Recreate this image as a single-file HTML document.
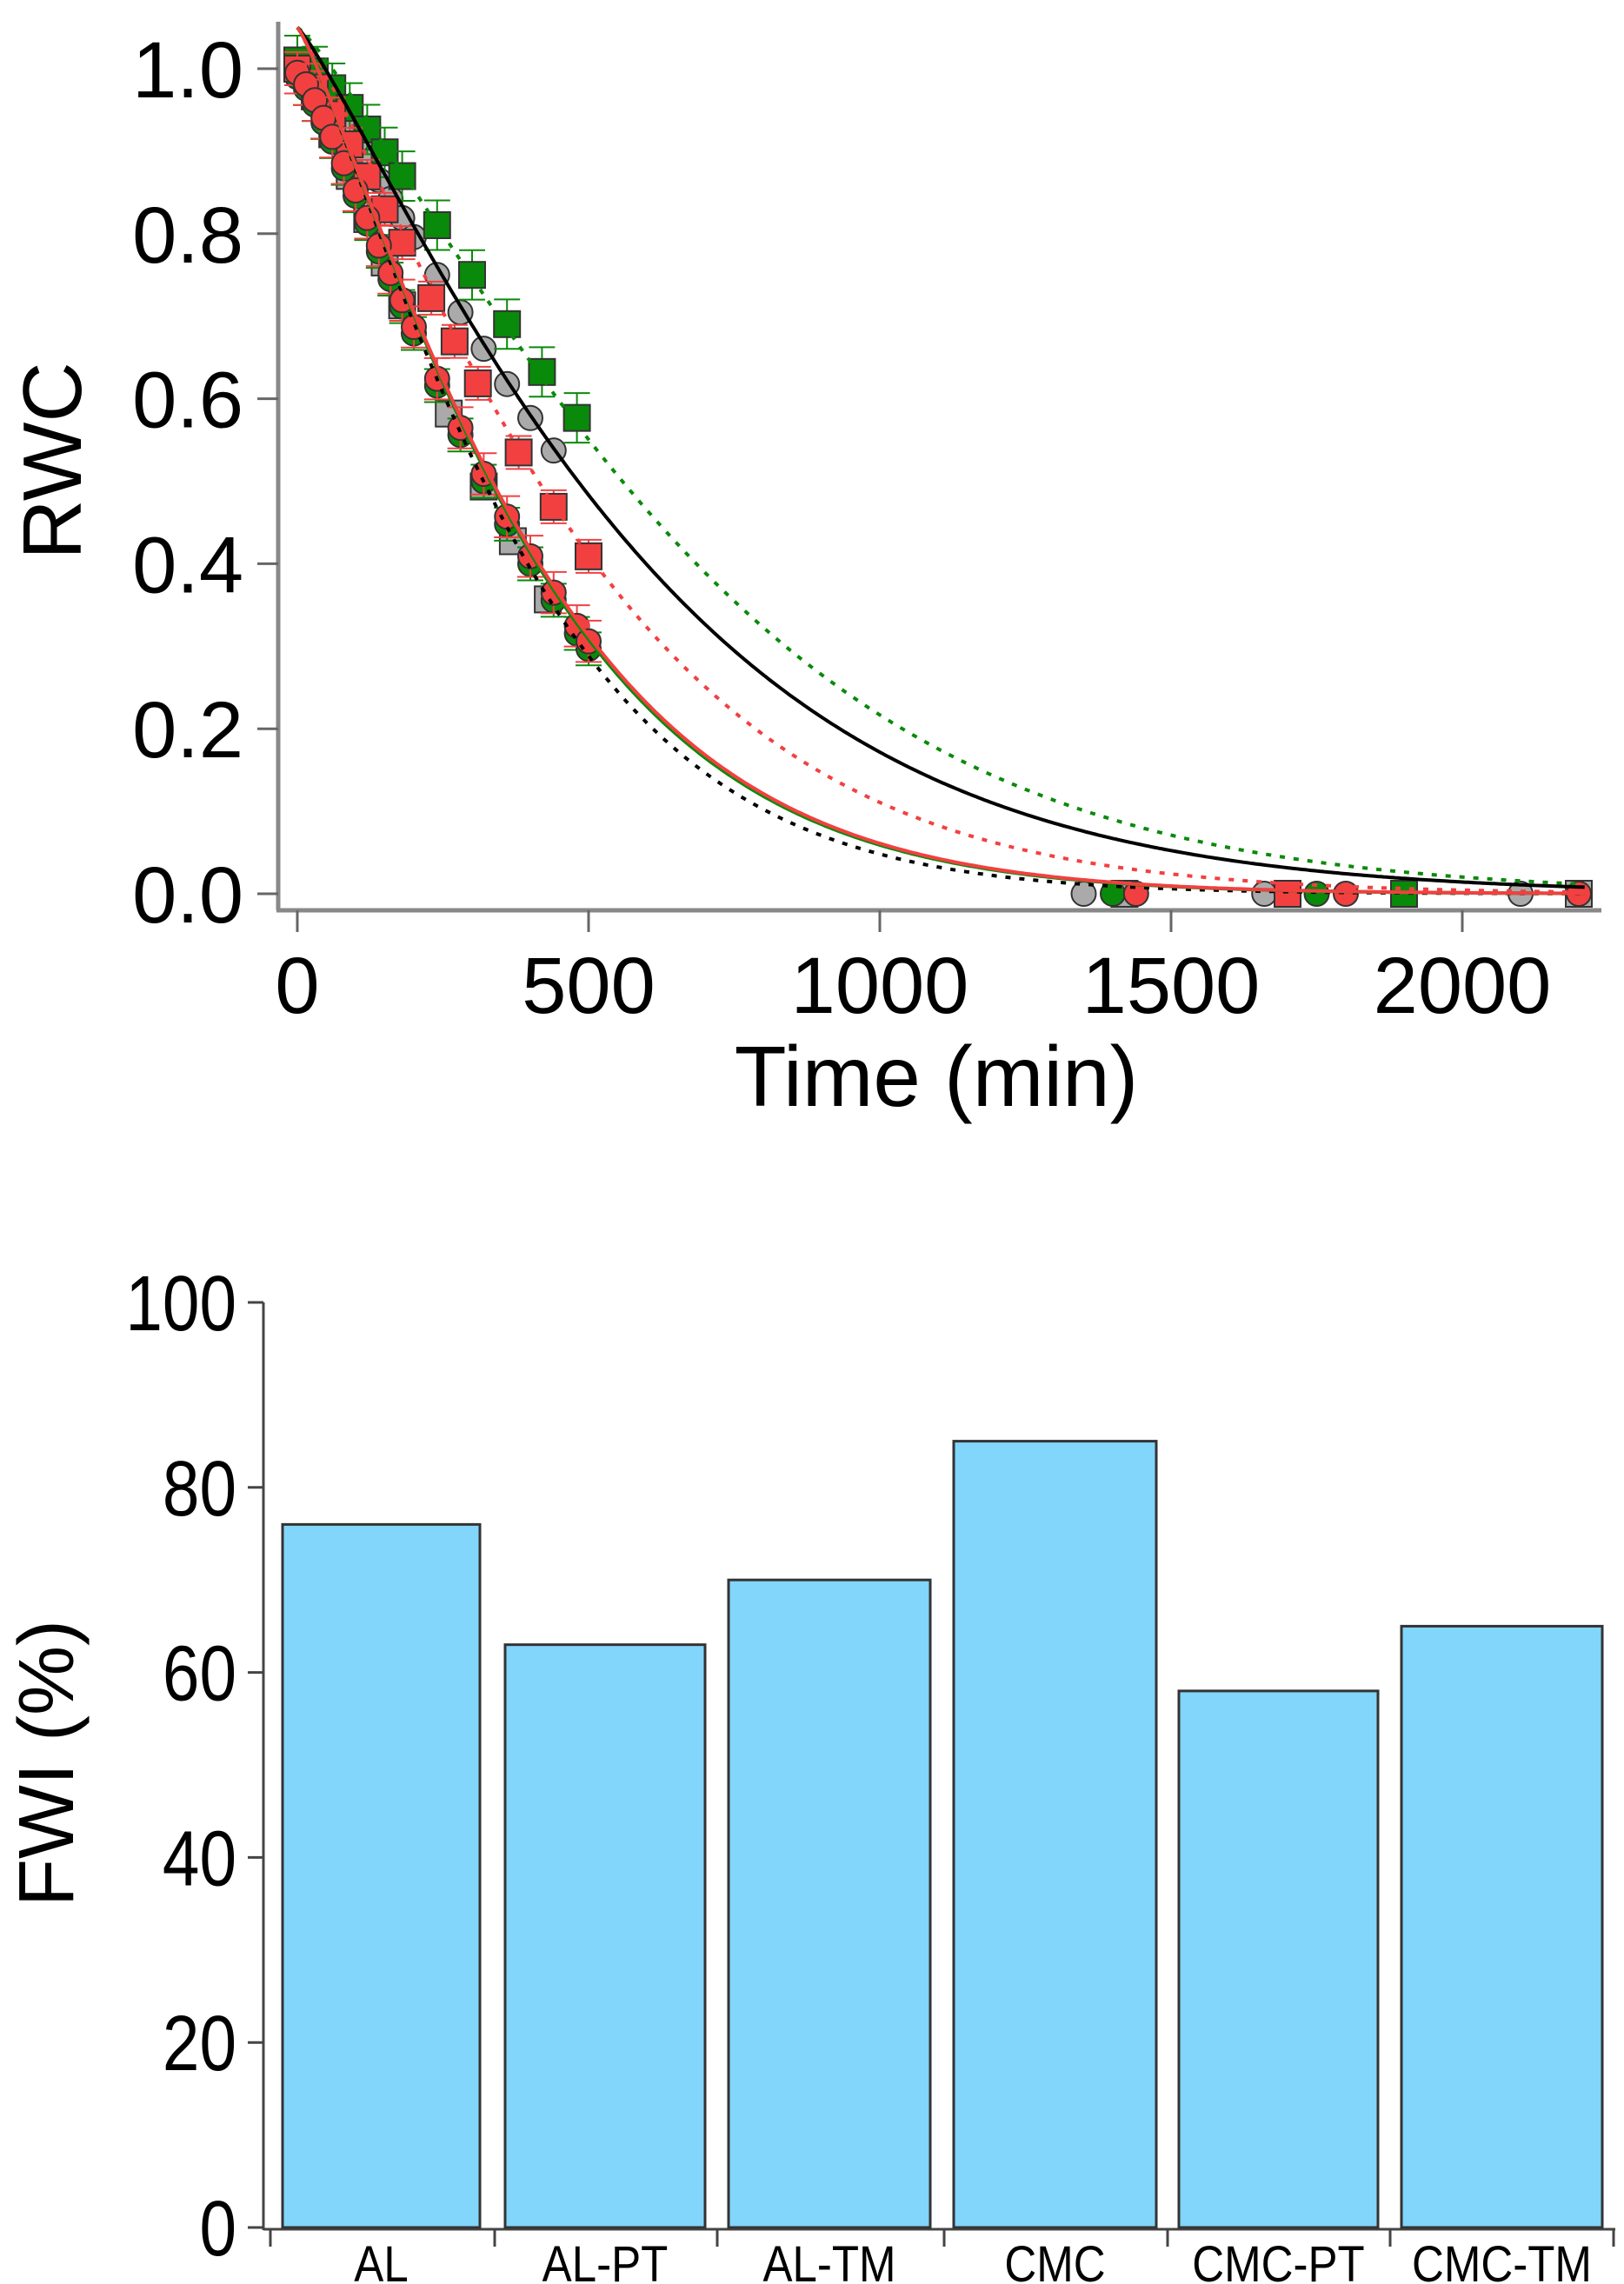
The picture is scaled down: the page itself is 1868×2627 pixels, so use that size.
<!DOCTYPE html>
<html><head><meta charset="utf-8"><style>
html,body{margin:0;padding:0;background:#fff;}
svg{display:block;}
text{font-family:"Liberation Sans",Arial,sans-serif;fill:#000;}
</style></head><body>
<svg id="s" width="1868" height="2627" viewBox="0 0 1868 2627" xmlns="http://www.w3.org/2000/svg">
<defs><clipPath id="cp"><rect x="322" y="22" width="1530" height="1024"/></clipPath></defs>
<g id="gtop"></g>
<g id="gbot"></g>
</svg>
<script>
(function(){
const NS="http://www.w3.org/2000/svg";
function el(p,tag,a,txt){const e=document.createElementNS(NS,tag);for(const k in a)e.setAttribute(k,a[k]);if(txt!==undefined)e.textContent=txt;p.appendChild(e);return e;}
const gt=document.getElementById('gtop'),gb=document.getElementById('gbot');
const px=t=>342+t*0.67, py=v=>1028-949*v;
el(gt,'line',{x1:320,y1:25,x2:320,y2:1047,stroke:'#888','stroke-width':5});
el(gt,'line',{x1:318,y1:1047,x2:1842,y2:1047,stroke:'#888','stroke-width':5});
[0,0.2,0.4,0.6,0.8,1.0].forEach(v=>{el(gt,'line',{x1:296,y1:py(v),x2:320,y2:py(v),stroke:'#666','stroke-width':3});
 el(gt,'text',{x:280,y:py(v)+33,'font-size':92,'text-anchor':'end'},v.toFixed(1));});
[0,500,1000,1500,2000].forEach(t=>{el(gt,'line',{x1:px(t),y1:1047,x2:px(t),y2:1072,stroke:'#666','stroke-width':3});
 el(gt,'text',{x:px(t),y:1165,'font-size':92,'text-anchor':'middle'},String(t));});
el(gt,'text',{x:1077,y:1272,'font-size':98,'text-anchor':'middle'},'Time (min)');
el(gt,'text',{x:0,y:0,'font-size':96,'text-anchor':'middle',transform:'translate(93,530) rotate(-90)'},'RWC');
const g=el(gt,'g',{'clip-path':'url(#cp)'});
const fits={bs:[1.0,640,1.27],bd:[1.0,420,1.28],rs:[1.0,442,1.26],gs:[1.0,438,1.26],rd:[1.0,545,1.3],gd:[1.0,730,1.35]};
const f=(k,t)=>{const p=fits[k];return p[0]*Math.exp(-Math.pow(t/p[1],p[2]));};
const fc=(k,t)=>f(k,t)+0.05*Math.exp(-t/150);
function curve(k,col,dash){let d='';for(let t=0;t<=2210;t+=5)d+=(t?'L':'M')+px(t).toFixed(1)+','+py(fc(k,t)).toFixed(1);
 const a={d:d,fill:'none',stroke:col,'stroke-width':4};if(dash)a['stroke-dasharray']='6 10';el(g,'path',a);}
const GR='#aaaaaa',GN='#0a8a0a',RD='#f24040';
function errb(t,v,e,c){const x=px(t);el(g,'line',{x1:x,y1:py(v+e),x2:x,y2:py(v-e),stroke:c,'stroke-width':2});
 el(g,'line',{x1:x-15,y1:py(v+e),x2:x+15,y2:py(v+e),stroke:c,'stroke-width':2});el(g,'line',{x1:x-15,y1:py(v-e),x2:x+15,y2:py(v-e),stroke:c,'stroke-width':2});}
function circ(t,v,c,eb,ebc){if(eb)errb(t,v,eb,ebc);el(g,'circle',{cx:px(t),cy:py(v),r:14,fill:c,stroke:'#333','stroke-width':2});}
function sq(t,v,c,eb,ebc){if(eb)errb(t,v,eb,ebc);el(g,'rect',{x:px(t)-15,y:py(v)-15,width:30,height:30,fill:c,stroke:'#333','stroke-width':2});}
const tc=[0,15,30,45,60,80,100,120,140,160,180,200,240,280,320,360,400,440,480,500];
const tsg=[0,30,60,90,120,150,180,240,300,360,420,480];
tc.filter(t=>t<=470).forEach(t=>circ(t,f('bs',t),GR));
[0,30,60,90,120,150,180,260,320,370,430].forEach(t=>sq(t,f('bd',t),GR));
tsg.forEach(t=>sq(t,f('gd',t)+0.01,GN,0.03,GN));
tc.forEach(t=>circ(t,f('gs',t)-0.01,GN,0.02,GN));
[0,30,60,90,120,150,180,230,270,310,380,440,500].forEach(t=>sq(t,f('rd',t),RD,0.02,RD));
tc.forEach(t=>circ(t,f('rs',t)-0.005,RD,0.025,RD));
[[1350,'c',GR],[1420,'s',GR],[1660,'c',GR],[2100,'c',GR],[2200,'s',GR],[1400,'c',GN],[1750,'c',GN],[1900,'s',GN],[1700,'s',RD],[1800,'c',RD],[1440,'c',RD],[2200,'c',RD]]
 .forEach(a=>a[1]=='c'?circ(a[0],0,a[2]):sq(a[0],0,a[2]));
curve('bd','#000',1);curve('gd',GN,1);curve('rd',RD,1);curve('bs','#000',0);curve('gs',GN,0);curve('rs',RD,0);
const by=v=>2562-10.64*v;
el(gb,'line',{x1:303,y1:1498,x2:303,y2:2565,stroke:'#444','stroke-width':3});
el(gb,'line',{x1:303,y1:2564,x2:1858,y2:2564,stroke:'#444','stroke-width':3});
[0,20,40,60,80,100].forEach(v=>{el(gb,'line',{x1:285,y1:by(v),x2:303,y2:by(v),stroke:'#444','stroke-width':3});
 el(gb,'text',{x:0,y:0,'font-size':90,'text-anchor':'end',transform:'translate(272,'+(by(v)+32)+') scale(0.85,1)'},String(v));});
el(gb,'text',{x:0,y:0,'font-size':90,'text-anchor':'middle',transform:'translate(84,2028) rotate(-90)'},'FWI (%)');
const bars=[['AL',325,552,76],['AL-PT',581,811,63],['AL-TM',838,1070,70],['CMC',1097,1330,85],['CMC-PT',1356,1585,58],['CMC-TM',1612,1843,65]];
bars.forEach(b=>{el(gb,'rect',{x:b[1],y:by(b[3]),width:b[2]-b[1],height:2562-by(b[3]),fill:'#82d5fb',stroke:'#333','stroke-width':3});
 el(gb,'text',{x:0,y:0,'font-size':58,'text-anchor':'middle',transform:'translate('+((b[1]+b[2])/2)+',2624) scale(0.88,1)'},b[0]);});
[311,569,825,1086,1343,1599,1856].forEach(x=>el(gb,'line',{x1:x,y1:2564,x2:x,y2:2584,stroke:'#444','stroke-width':3}));
})();
</script>
</body></html>
